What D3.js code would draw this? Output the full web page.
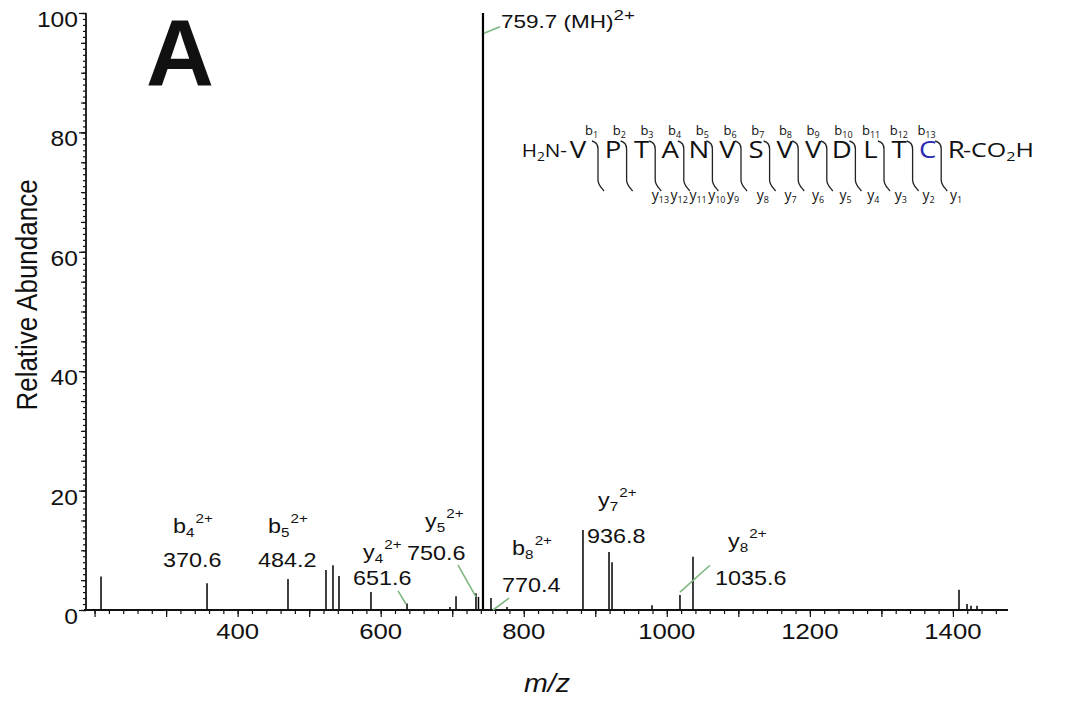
<!DOCTYPE html>
<html>
<head>
<meta charset="utf-8">
<script src="https://cdn.jsdelivr.net/npm/d3@7"></script>
<style>
  body { margin: 0; background: #fff; }
  text { font-family: "Liberation Sans", Arial, Helvetica, sans-serif; fill: #111; }
</style>
</head>
<body>
<svg id="chart" width="1070" height="702"></svg>
<script>
// ---- spectrum ----
const mz        = [209.0, 357.2, 470.4, 523.5, 533.3, 541.7, 586.4, 636.8, 696.9, 705.3,
                   733.2, 736.7, 743.0, 754.2, 776.6, 882.8, 919.2, 923.4, 979.3, 1018.4,
                   1036.6, 1408.5, 1419.7, 1425.3, 1433.7];
const abundance = [5.6, 4.5, 5.2, 6.7, 7.5, 5.7, 3.0, 1.1, 0.5, 2.3,
                   2.8, 2.2, 100, 2.0, 0.5, 13.4, 9.7, 8.0, 0.8, 2.5,
                   8.9, 3.4, 1.0, 0.7, 0.7];

const xTicks = [400, 600, 800, 1000, 1200, 1400];
const yTicks = [0, 20, 40, 60, 80, 100];

// fragment ion annotations
const ionType  = ["b", "b", "y", "y", "b", "y", "y"];
const ionIndex = ["4", "5", "4", "5", "8", "7", "8"];
const ionValue = ["370.6", "484.2", "651.6", "750.6", "770.4", "936.8", "1035.6"];
const ionNameAt  = [[309.6, 12.9], [442.4, 12.9], [575.3, 8.5], [662.0, 13.7], [783.6, 9.2], [903.8, 17.3], [1085.6, 10.4]];
const ionValueAt = [[295.6, 7.2], [428.5, 7.2], [561.3, 4.2], [636.8, 8.4], [769.6, 3.0], [888.4, 11.2], [1067.4, 4.2]];
const precursor = "759.7 (MH)";
const precursorAt = [768.2, 97.5];

// green leader lines (m/z, abundance)
const leaderFrom = [[744.4, 96.6], [624.2, 3.2], [708.1, 7.5], [757.0, 0.0], [1018.4, 3.0]];
const leaderTo   = [[766.8, 97.7], [635.4, 1.0], [733.2, 2.2], [779.4, 2.0], [1060.4, 7.5]];

// peptide
const residues = ["V", "P", "T", "A", "N", "V", "S", "V", "V", "D", "L", "T", "C", "R"];

const svg = d3.select("#chart");
const SX = 1.17; // glyphs in the figure are a bit wide

const x = d3.scaleLinear().domain([188, 1477]).range([86, 1008]);
const y = d3.scaleLinear().domain([0, 100]).range([610, 13]);

function txt(parent, px, py, sx) {
  return parent.append("text")
    .attr("transform", `translate(${px},${py}) scale(${sx == null ? SX : sx},1)`);
}

// peaks
svg.append("g").selectAll("line").data(mz).join("line")
  .attr("x1", d => x(d)).attr("x2", d => x(d))
  .attr("y1", y(0)).attr("y2", (d, i) => y(abundance[i]))
  .attr("stroke", "#000")
  .attr("stroke-width", (d, i) => abundance[i] > 50 ? 2.2 : 1.5);

// axis ticks
function tickGroup(axis, pos) {
  const g = svg.append("g").attr("transform", pos).call(axis);
  g.select(".domain").remove();
  g.selectAll("line").attr("stroke", "#111").attr("stroke-width", 1.2);
  return g;
}
const fmt = () => "";
tickGroup(d3.axisLeft(y).tickValues(d3.range(0, 101, 1)).tickSize(3).tickFormat(fmt), `translate(${x(188)},0)`);
tickGroup(d3.axisLeft(y).tickValues(d3.range(0, 101, 5)).tickSize(5).tickFormat(fmt), `translate(${x(188)},0)`);
tickGroup(d3.axisLeft(y).tickValues(yTicks).tickSize(7).tickFormat(fmt), `translate(${x(188)},0)`);
tickGroup(d3.axisBottom(x).tickValues(d3.range(200, 1477, 20)).tickSize(4).tickFormat(fmt), `translate(0,${y(0)})`);
tickGroup(d3.axisBottom(x).tickValues(d3.range(200, 1477, 100)).tickSize(7).tickFormat(fmt), `translate(0,${y(0)})`);

// axis lines
svg.append("line").attr("x1", x(188)).attr("x2", x(188)).attr("y1", y(0)).attr("y2", y(100))
  .attr("stroke", "#111").attr("stroke-width", 1.8);
svg.append("line").attr("x1", x(188) - 2).attr("x2", x(1477)).attr("y1", y(0)).attr("y2", y(0))
  .attr("stroke", "#111").attr("stroke-width", 1.8);

// tick labels
yTicks.forEach(v => {
  txt(svg, 78, y(v) + 14, 1.12).attr("text-anchor", "end").style("font-size", "22px").text(v);
});
xTicks.forEach(v => {
  txt(svg, x(v), 639).attr("text-anchor", "middle").style("font-size", "22px").text(v);
});

// axis titles
svg.append("text")
  .attr("transform", `translate(37,295) scale(${SX},1) rotate(-90)`)
  .attr("text-anchor", "middle").style("font-size", "26px").text("Relative Abundance");
txt(svg, 547, 692, 1.1).attr("text-anchor", "middle")
  .style("font-size", "26px").style("font-style", "italic").text("m/z");

// panel letter
svg.append("text").attr("x", 146).attr("y", 86)
  .style("font-size", "94px").style("font-weight", "bold").text("A");

// leader lines
svg.append("g").selectAll("line").data(leaderFrom).join("line")
  .attr("x1", d => x(d[0])).attr("y1", d => y(d[1]))
  .attr("x2", (d, i) => x(leaderTo[i][0])).attr("y2", (d, i) => y(leaderTo[i][1]))
  .attr("stroke", "#7fb77f").attr("stroke-width", 1.6);

// ion labels
ionType.forEach((t, i) => {
  const name = txt(svg, x(ionNameAt[i][0]), y(ionNameAt[i][1])).style("font-size", "20px");
  name.append("tspan").text(t);
  name.append("tspan").attr("dy", 4).style("font-size", "13px").text(ionIndex[i]);
  name.append("tspan").attr("dy", -14).attr("dx", 1).style("font-size", "13px").text("2+");
  txt(svg, x(ionValueAt[i][0]), y(ionValueAt[i][1])).style("font-size", "20px").text(ionValue[i]);
});

const mh = txt(svg, x(precursorAt[0]), y(precursorAt[1]), 1.25).style("font-size", "18px");
mh.append("tspan").text(precursor);
mh.append("tspan").attr("dy", -8).style("font-size", "15px").text("2+");

// peptide sequence with fragmentation brackets
const pep = svg.append("g");
const pepFont = '"Open Sans", "Liberation Sans", sans-serif';
const bracketX = residues.slice(1).map((r, k) => 598 + 28.6 * k);
const residueX = residues.map((r, k) => k === 0 ? 578 : bracketX[k - 1] + 15);

residues.forEach((r, k) => {
  txt(pep, residueX[k], 158, 1.15).attr("text-anchor", "middle")
    .style("font-family", pepFont).style("font-size", "24px")
    .style("fill", r === "C" && k === 12 ? "#2b2bb0" : "#111").text(r);
});

const nTerm = txt(pep, 567, 157, 1.15).attr("text-anchor", "end")
  .style("font-family", pepFont).style("font-size", "18px");
nTerm.append("tspan").text("H");
nTerm.append("tspan").attr("dy", 4).style("font-size", "12px").text("2");
nTerm.append("tspan").attr("dy", -4).text("N-");

const cTerm = txt(pep, 963, 157, 1.25).style("font-family", pepFont).style("font-size", "20px");
cTerm.append("tspan").text("-CO");
cTerm.append("tspan").attr("dy", 4).style("font-size", "13px").text("2");
cTerm.append("tspan").attr("dy", -4).text("H");

pep.selectAll("path").data(bracketX).join("path")
  .attr("d", bx => `M${bx - 6},141 C${bx - 2},142 ${bx},144 ${bx},149 L${bx},180 C${bx},185 ${bx + 3},187 ${bx + 6},191`)
  .attr("fill", "none").attr("stroke", "#222").attr("stroke-width", 1.3);

bracketX.forEach((bx, k) => {
  const b = txt(pep, 585 + 27.7 * k, 135, 1.0).style("font-family", pepFont).style("font-size", "13px");
  b.append("tspan").text("b");
  b.append("tspan").attr("dy", 3).style("font-size", "9px").text(k + 1);

  const n = 13 - k; // y ion number under this bracket
  const left = n <= 8 ? 950 - 27.6 * (n - 1) : 727 - 18.8 * (n - 9);
  const yl = txt(pep, left, 200, 1.0).style("font-family", pepFont).style("font-size", "14px");
  yl.append("tspan").text("y");
  yl.append("tspan").attr("dy", 3).style("font-size", "9px").text(n);
});
</script>
</body>
</html>
